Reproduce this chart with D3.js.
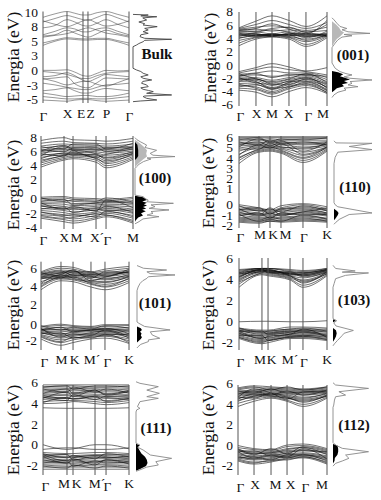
<!DOCTYPE html>
<html><head><meta charset="utf-8">
<script src="https://cdn.jsdelivr.net/npm/d3@7"></script>
<style>
body{margin:0;background:#fff}
svg{display:block}
text{font-family:"Liberation Serif","Times New Roman",serif;fill:#111}
</style>
</head><body><svg id="c" width="381" height="500"></svg>
<script>
// ---------------- DATA ----------------
// Bulk
const bulkK = ["Γ","X","E","Z","P","Γ"];
const bulkKPos = [0,0.279,0.465,0.523,0.733,1];
const bulkSampleK = [0,0.14,0.279,0.37,0.465,0.523,0.63,0.733,0.87,1];
const bulkDomain = [-5.7,10];
const bulkTicks = [10,7.5,5,2.5,0,-2.5,-5];
const bulkTickLabels = ["10","8","5","3","0","-3","-5"];
const bulkCond = [
  [4.2,4.9,5.3,5.2,5.1,5.1,5.2,5.2,4.8,4.2],
  [4.6,5.1,5.5,5.4,5.3,5.3,5.4,5.4,5.0,4.6],
  [5.8,6.0,6.8,6.3,5.8,5.6,6.2,6.8,6.2,5.8],
  [6.0,6.6,7.2,7.0,6.5,6.5,7.0,7.2,6.6,6.0],
  [7.2,7.6,8.6,8.2,7.6,7.5,8.0,8.6,7.8,7.2],
  [8.2,8.8,9.3,9.0,8.6,8.5,9.0,9.5,8.9,8.2],
  [9.0,9.6,10.0,9.7,9.4,9.4,9.8,10.0,9.5,9.0],
  [8.4,7.8,7.4,7.8,8.4,8.6,8.0,7.5,7.8,8.4],
  [5.6,5.9,6.2,6.6,7.0,7.2,6.8,6.3,6.0,5.6]
];
const bulkVal = [
  [-0.1,-0.1,0.0,-0.4,-1.0,-1.1,-0.6,-0.1,-0.2,-0.1],
  [-0.3,-0.5,-0.8,-1.2,-1.5,-1.5,-1.0,-0.6,-0.4,-0.3],
  [-1.2,-1.0,-0.5,-1.0,-1.8,-2.0,-1.4,-0.8,-1.0,-1.2],
  [-1.5,-2.0,-2.6,-2.3,-2.0,-2.0,-2.5,-2.8,-2.2,-1.5],
  [-2.3,-2.6,-3.0,-3.2,-3.4,-3.4,-3.0,-2.6,-2.5,-2.3],
  [-3.6,-3.4,-3.1,-3.6,-4.0,-4.0,-3.5,-3.2,-3.4,-3.6],
  [-4.0,-4.3,-4.6,-4.5,-4.4,-4.4,-4.6,-4.6,-4.4,-4.0],
  [-4.6,-4.8,-5.0,-5.0,-4.9,-4.9,-5.0,-5.0,-4.8,-4.6],
  [-5.2,-5.3,-5.4,-5.2,-5.1,-5.1,-5.3,-5.4,-5.3,-5.2],
  [-1.6,-1.4,-1.2,-2.4,-3.0,-3.1,-2.2,-1.4,-1.5,-1.6]
];
const bulkDos = [[9.5,0],[9.4,0.39],[9.25,0.2],[9.1,0.61],[8.9,0.25],[8.54,0.35],[8.2,0.15],[7.9,0.3],[7.68,0.26],[7.4,0.62],[7.1,0.3],[6.83,0.39],[6.54,0.26],[6.26,0.39],[6.0,0.2],[5.68,0.18],[5.4,0.3],[5.23,0.99],[5.05,0.3],[4.82,0.26],[4.5,0.15],[4.25,0.09],[3.96,0],[0.26,0],[-0.03,0.09],[-0.3,0.2],[-0.6,0.26],[-0.89,0.39],[-1.2,0.2],[-1.46,0.26],[-1.75,0.48],[-2.0,0.25],[-2.32,0.22],[-2.6,0.35],[-2.9,0.39],[-3.1,0.2],[-3.35,0.26],[-3.55,0.4],[-3.75,0.52],[-4.03,0.35],[-4.32,0.99],[-4.5,0.3],[-4.6,0.26],[-4.9,0.35],[-5.18,0.61],[-5.35,0.2],[-5.47,0]];

// (001)
const s001K = ["Γ","X","M","X","Γ","M"];
const s001KPos = [0,0.193,0.375,0.568,0.761,1];
const s001Domain = [-6.28,7.88];
const s001Ticks = [8,6,4,2,0,-2,-4,-6];
const s001TickLabels = ["8","6","4","2","0","-2","-4","-6"];
const s001Cond = [
  [2.8,3.8,4.1,3.8,2.7,4.0],[3.2,4.0,4.2,4.0,3.0,4.2],[3.6,4.1,4.3,4.1,3.4,4.3],
  [4.0,4.3,4.4,4.2,3.8,4.4],[4.3,4.4,4.5,4.4,4.2,4.5],[4.6,4.5,4.4,4.5,4.6,4.4],
  [4.8,4.6,4.3,4.6,4.7,4.3],[5.0,4.9,4.6,4.9,4.4,4.7],[5.2,5.3,5.0,5.2,4.9,5.1],
  [5.3,5.6,5.8,5.5,5.1,5.6],[5.4,6.0,6.6,6.0,5.4,6.3],[5.5,6.5,7.3,6.6,5.7,7.3],
  [5.0,5.0,5.4,5.6,4.8,6.0],
  [4.2,4.6,4.2,4.7,4.3,4.6],[4.5,4.2,4.6,4.3,4.5,4.2],[3.9,4.4,4.5,4.4,3.6,4.5],
  [4.4,4.8,5.2,4.8,4.0,5.0],[4.7,4.3,4.3,4.5,4.2,4.3],[5.1,5.4,6.1,5.3,4.6,6.6]
];
const s001Val = [
  [-1.1,-0.5,0.1,-0.4,-1.0,-0.5],[-1.3,-0.8,-0.4,-0.8,-1.1,-1.6],[-1.5,-1.3,-1.0,-1.3,-1.3,-2.0],
  [-1.7,-1.6,-1.8,-1.7,-1.5,-2.3],[-1.9,-2.0,-2.4,-2.0,-1.7,-2.6],[-2.1,-2.2,-2.8,-2.3,-1.9,-2.9],
  [-2.3,-2.4,-3.2,-2.5,-2.1,-3.2],[-2.6,-2.7,-3.5,-2.8,-2.3,-3.5],[-2.9,-3.0,-3.8,-3.0,-2.6,-3.8],
  [-3.2,-3.4,-4.1,-3.3,-2.9,-4.0],[-3.6,-3.8,-4.5,-3.7,-3.2,-4.2],[-3.9,-4.2,-4.9,-4.1,-3.5,-4.4],
  [-2.0,-2.8,-3.0,-2.6,-2.5,-3.4],
  [-1.4,-2.2,-2.6,-2.2,-1.4,-2.8],[-1.8,-1.4,-2.0,-1.5,-1.6,-1.8],[-2.2,-2.6,-3.7,-2.7,-2.0,-3.6],
  [-2.5,-2.2,-3.0,-3.1,-2.2,-3.0],[-3.0,-3.6,-4.3,-3.5,-2.7,-3.9],[-3.4,-3.1,-3.6,-3.4,-3.0,-4.3]
];
const s001Dos = [[7.0,0],[6.7,0.05],[6.2,0.12],[5.7,0.2],[5.4,0.37],[5.2,0.25],[4.9,0.4],[4.66,0.95],[4.5,0.3],[4.3,0.5],[4.1,0.25],[3.7,0.15],[3.2,0.08],[2.7,0.02],[2.5,0],[0.2,0],[-0.1,0.03],[-0.6,0.08],[-1.1,0.2],[-1.4,0.35],[-1.6,0.5],[-1.9,0.3],[-2.1,0.45],[-2.36,1.0],[-2.6,0.45],[-2.86,0.5],[-3.1,0.4],[-3.37,0.65],[-3.6,0.3],[-3.87,0.35],[-4.2,0.15],[-4.6,0.05],[-5.0,0]];
const s001DosGray = [[6.5,0],[6.0,0.1],[5.5,0.18],[5.1,0.22],[4.8,0.3],[4.5,0.25],[4.2,0.2],[3.8,0.12],[3.2,0.05],[2.7,0]];
const s001DosBlack = [[-1.0,0],[-1.2,0.15],[-1.5,0.28],[-1.8,0.2],[-2.0,0.3],[-2.3,0.45],[-2.5,0.3],[-2.8,0.4],[-3.0,0.25],[-3.3,0.3],[-3.6,0.12],[-4.0,0.05],[-4.2,0]];

// (100)
const s100K = ["Γ","X","M","X´","Γ","M"];
const s100KPos = [0,0.25,0.348,0.598,0.707,1];
const s100Domain = [-5.24,8.04];
const s100Ticks = [8,6,4,2,-0.71,-2.86,-4.9];
const s100TickLabels = ["8","6","4","2","0","-2","-4"];
const s100Cond = [
  [3.6,4.6,4.8,4.3,3.5,4.7],[3.9,4.8,5.0,4.6,3.8,4.9],[4.2,5.0,5.2,4.9,4.1,5.1],
  [4.6,5.2,5.4,5.1,4.5,5.3],[5.0,5.4,5.5,5.3,4.9,5.5],[5.3,5.6,5.7,5.6,5.3,5.7],
  [5.6,5.9,5.9,5.8,5.6,5.9],[5.8,6.1,6.1,6.0,5.9,6.1],[6.0,6.3,6.4,6.2,6.1,6.3],
  [6.3,6.6,6.6,6.5,6.4,6.6],[6.6,6.9,6.8,6.7,6.6,6.9],[7.0,7.3,7.1,7.0,6.9,7.3],
  [7.4,7.8,7.5,7.4,7.3,7.7],[5.2,6.5,6.0,5.0,5.4,6.2],
  [4.8,5.6,5.3,5.4,4.7,5.6],[5.5,5.2,6.0,5.5,5.0,5.8],[6.1,5.8,6.3,6.4,5.8,6.5],
  [5.9,6.7,6.2,6.1,6.3,6.4],[6.5,6.2,6.9,6.9,6.2,7.0],[4.4,5.3,5.6,4.8,4.3,5.5]
];
const s100Val = [
  [-0.7,-0.6,-0.8,-0.9,-1.0,-0.7],[-0.9,-0.8,-1.0,-1.1,-1.2,-0.9],[-1.1,-1.1,-1.3,-1.4,-1.4,-1.2],
  [-1.4,-1.4,-1.6,-1.6,-1.5,-1.5],[-1.6,-1.7,-1.9,-1.8,-1.7,-1.8],[-1.8,-2.0,-2.2,-2.0,-1.9,-2.1],
  [-2.0,-2.3,-2.5,-2.2,-2.1,-2.4],[-2.3,-2.6,-2.8,-2.5,-2.3,-2.7],[-2.6,-2.9,-3.1,-2.8,-2.5,-3.0],
  [-2.9,-3.2,-3.4,-3.0,-2.8,-3.3],[-3.2,-3.5,-3.8,-3.3,-3.0,-3.7],[-3.5,-3.9,-4.1,-3.6,-3.3,-4.0],
  [-3.7,-4.2,-4.4,-3.8,-3.5,-4.4],[-1.5,-2.4,-2.0,-2.7,-1.1,-2.2],
  [-0.8,-1.3,-1.1,-1.3,-0.8,-1.4],[-1.3,-1.0,-1.8,-1.5,-1.3,-1.6],[-1.9,-2.4,-2.3,-2.6,-2.0,-2.9],
  [-2.4,-2.1,-2.9,-2.3,-2.6,-2.5],[-2.8,-3.3,-3.2,-3.5,-2.7,-3.5],[-3.3,-3.7,-3.6,-3.1,-3.2,-4.2]
];
const s100Dos = [[7.8,0],[7.5,0.05],[7.23,0.13],[6.75,0.29],[6.4,0.25],[6.0,0.54],[5.56,0.38],[5.3,0.45],[5.1,1.0],[4.9,0.3],[4.76,0.4],[4.38,0.21],[4.0,0.1],[3.66,0.04],[3.4,0],[-0.4,0],[-0.63,0.21],[-0.9,0.25],[-1.1,0.33],[-1.35,0.3],[-1.57,0.96],[-1.8,0.4],[-2.05,0.5],[-2.3,0.35],[-2.52,0.85],[-2.75,0.4],[-3.0,0.45],[-3.25,0.3],[-3.48,0.6],[-3.8,0.2],[-4.19,0.1],[-4.5,0]];
const s100DosGray = [[7.5,0],[7.0,0.12],[6.5,0.22],[6.0,0.3],[5.5,0.28],[5.1,0.3],[4.7,0.2],[4.3,0.12],[3.8,0.03],[3.5,0]];
const s100DosBlack = [[7.2,0],[6.8,0.06],[6.0,0.08],[5.2,0.08],[4.9,0.05],[4.6,0],[-0.5,0],[-0.7,0.2],[-0.9,0.25],[-1.1,0.3],[-1.3,0.18],[-1.5,0.3],[-1.7,0.22],[-1.9,0.3],[-2.1,0.2],[-2.3,0.28],[-2.5,0.18],[-2.7,0.27],[-3.0,0.15],[-3.3,0.2],[-3.6,0.08],[-4.0,0.02],[-4.2,0]];

// (110)
const s110K = ["Γ","M","K","M","Γ","K"];
const s110KPos = [0,0.227,0.352,0.477,0.727,1];
const s110Domain = [-2.86,6.07];
const s110Ticks = [6,5,4,3,2,1,-0.53,-1.53,-2.57];
const s110TickLabels = ["6","5","4","3","2","1","0","-1","-2"];
const s110Cond = [
  [3.4,4.5,4.6,4.4,3.5,4.6],[3.7,4.6,4.7,4.5,3.7,4.7],[4.0,4.7,4.8,4.6,3.9,4.8],
  [4.3,4.9,4.9,4.8,4.2,4.9],[4.6,5.0,5.0,4.9,4.5,5.0],[4.9,5.1,5.1,5.0,4.8,5.1],
  [5.1,5.2,5.2,5.2,5.0,5.2],[5.3,5.3,5.3,5.3,5.2,5.3],[5.4,5.4,5.5,5.4,5.4,5.5],
  [5.6,5.6,5.6,5.6,5.6,5.6],[5.8,5.7,5.8,5.7,5.8,5.8],[5.9,5.9,5.9,5.9,5.9,5.9],
  [6.0,6.0,6.0,6.0,6.0,6.0],[5.0,5.8,5.4,5.6,4.6,5.5],
  [4.2,5.2,4.9,5.3,4.3,5.0],[4.8,4.8,5.4,5.0,4.9,5.3],[5.2,5.5,5.1,5.5,5.3,5.4],
  [5.5,5.2,5.7,5.3,5.5,5.2],[5.7,5.9,5.5,5.8,5.7,5.9],[3.9,4.8,5.0,4.7,4.0,5.0]
];
const s110Val = [
  [-0.6,-0.9,-1.1,-0.7,-0.5,-0.8],[-0.8,-1.0,-1.2,-0.9,-0.6,-1.0],[-1.0,-1.1,-1.3,-1.0,-0.8,-1.1],
  [-1.1,-1.2,-1.4,-1.1,-0.9,-1.2],[-1.2,-1.4,-1.5,-1.2,-1.1,-1.4],[-1.4,-1.5,-1.6,-1.4,-1.2,-1.5],
  [-1.5,-1.6,-1.7,-1.5,-1.4,-1.6],[-1.6,-1.8,-1.8,-1.6,-1.5,-1.7],[-1.8,-1.9,-1.9,-1.8,-1.7,-1.9],
  [-1.9,-2.0,-2.0,-1.9,-1.8,-2.0],[-2.1,-2.2,-2.1,-2.1,-2.0,-2.1],[-2.2,-2.3,-2.2,-2.2,-2.1,-2.2],
  [-2.3,-2.4,-2.2,-2.3,-2.2,-2.3],[-1.0,-1.6,-0.9,-1.6,-1.3,-0.9],
  [-0.7,-1.2,-1.0,-1.3,-0.7,-1.2],[-1.1,-0.9,-1.5,-1.0,-1.0,-1.4],[-1.3,-1.7,-1.4,-1.7,-1.3,-1.6],
  [-1.7,-1.4,-1.9,-1.4,-1.6,-1.5],[-2.0,-2.1,-1.8,-2.0,-1.9,-2.2],[-1.5,-2.2,-2.0,-2.2,-1.6,-2.0]
];
const s110Dos = [[5.6,0],[5.4,0.05],[5.36,1.0],[5.05,0.4],[4.75,1.0],[4.5,0.1],[4.0,0.03],[3.4,0],[-0.4,0],[-0.6,0.03],[-0.8,0.1],[-1.4,1.0],[-1.55,0.4],[-2.0,0.15],[-2.3,0.05],[-2.5,0]];
const s110DosGray = [];
const s110DosBlack = [[-1.0,0],[-1.2,0.08],[-1.4,0.12],[-1.6,0.1],[-1.9,0.05],[-2.1,0]];

// (101)
const s101K = ["Γ","M","K","M´","Γ","K"];
const s101KPos = [0,0.227,0.364,0.568,0.727,1];
const s101Domain = [-3.13,6.73];
const s101Ticks = [6,4,2,-0.2,-2];
const s101TickLabels = ["6","4","2","0","-2"];
const s101Cond = [
  [3.6,4.6,4.5,3.9,3.6,4.4],[3.9,4.8,4.7,4.2,3.9,4.6],[4.2,4.9,4.8,4.4,4.2,4.8],
  [4.5,5.0,5.0,4.6,4.5,5.0],[4.8,5.1,5.1,4.8,4.7,5.1],[5.0,5.2,5.2,5.0,4.9,5.2],
  [5.1,5.4,5.3,5.1,5.1,5.4],[5.2,5.5,5.5,5.2,5.3,5.5],[5.3,5.6,5.6,5.3,5.4,5.6],
  [5.4,5.8,5.7,5.4,5.5,5.8],[5.5,6.0,5.9,5.5,5.7,6.0],[5.6,6.2,6.1,5.6,5.9,6.2],
  [4.9,5.3,5.8,4.6,5.0,5.6],
  [4.3,5.3,4.9,4.5,4.4,5.1],[4.9,4.9,5.4,5.1,4.8,5.3],[5.3,5.7,5.2,5.3,5.2,5.7],
  [5.0,5.5,5.7,4.9,5.6,5.5],[5.5,5.1,5.6,5.6,5.1,5.9],[4.0,5.0,5.0,4.3,4.0,4.9]
];
const s101Val = [
  [-0.5,-0.25,-0.4,-0.5,-0.3,-0.3],[-0.6,-0.4,-0.5,-0.6,-0.5,-0.4],[-0.8,-0.6,-0.7,-0.7,-0.7,-0.6],
  [-0.9,-0.8,-0.9,-0.9,-0.8,-0.8],[-0.9,-0.9,-0.9,-0.9,-0.9,-0.9],[-1.0,-1.1,-1.0,-1.0,-1.0,-1.1],
  [-1.1,-1.3,-1.2,-1.1,-1.1,-1.3],[-1.2,-1.5,-1.4,-1.3,-1.2,-1.5],[-1.4,-1.8,-1.6,-1.4,-1.3,-1.7],
  [-1.5,-2.0,-1.8,-1.6,-1.5,-1.9],[-1.7,-2.3,-2.0,-1.7,-1.6,-2.1],[-1.9,-2.6,-2.3,-1.9,-1.8,-2.4],
  [-0.7,-1.7,-1.3,-1.5,-0.9,-1.6],
  [-0.4,-0.9,-0.6,-0.8,-0.4,-0.7],[-0.9,-0.6,-1.1,-0.9,-0.8,-1.0],[-1.2,-1.6,-1.5,-1.2,-1.0,-1.8],
  [-1.3,-1.2,-1.8,-1.5,-1.4,-1.4],[-1.6,-2.2,-1.7,-1.8,-1.4,-2.3],[-0.8,-1.4,-1.1,-0.9,-0.7,-1.3]
];
const s101Dos = [[6.3,0],[6.0,0.17],[5.8,0.78],[5.6,0.26],[5.4,0.35],[5.25,1.0],[5.05,0.3],[4.87,0.26],[4.6,0.15],[4.3,0.08],[3.9,0.03],[3.5,0],[0.0,0],[-0.15,0.05],[-0.5,0.2],[-0.89,0.87],[-1.1,0.35],[-1.45,0.4],[-1.82,0.6],[-2.0,0.3],[-2.19,0.3],[-2.5,0.1],[-2.75,0.03],[-2.9,0]];
const s101DosGray = [];
const s101DosBlack = [[-0.5,0],[-0.7,0.1],[-0.9,0.13],[-1.1,0.08],[-1.3,0.12],[-1.5,0.1],[-1.7,0.13],[-1.9,0.1],[-2.1,0.05],[-2.3,0]];

// (103)
const s103K = ["Γ","M","K","M´","Γ","K"];
const s103KPos = [0,0.261,0.33,0.58,0.727,1];
const s103Domain = [-2.8,6.0];
const s103Ticks = [6,4,2,0,-2];
const s103TickLabels = ["6","4","2","0","-2"];
const s103Cond = [
  [3.2,4.4,4.3,3.9,3.2,4.3],[3.5,4.5,4.4,4.0,3.4,4.4],[3.8,4.6,4.5,4.1,3.7,4.5],
  [4.0,4.7,4.6,4.2,3.9,4.6],[4.2,4.8,4.7,4.3,4.1,4.7],[4.3,4.8,4.8,4.4,4.3,4.7],
  [4.4,4.9,4.8,4.5,4.4,4.8],[4.5,4.9,4.9,4.5,4.5,4.8],[4.6,5.0,4.9,4.6,4.6,4.9],
  [4.7,5.0,5.0,4.7,4.6,4.9],[4.8,5.0,5.0,4.8,4.7,5.0],[4.1,4.9,4.7,4.5,4.4,4.9],
  [3.7,4.6,4.8,4.3,3.6,4.7],[4.2,4.9,4.6,4.6,4.2,4.6],[4.5,4.7,4.9,4.4,4.5,4.9],
  [4.6,4.8,4.7,4.7,4.3,4.8],[4.9,5.0,5.0,4.9,4.8,5.0],[3.9,4.7,4.6,4.3,3.8,4.5]
];
const s103Val = [
  [-0.1,-0.05,-0.05,-0.1,-0.1,0.0],[-0.7,-0.9,-0.9,-0.6,-0.6,-0.7],[-0.8,-1.0,-1.0,-0.8,-0.8,-0.8],
  [-0.9,-1.1,-1.1,-0.9,-0.9,-0.9],[-1.0,-1.2,-1.2,-1.0,-1.0,-1.0],[-1.1,-1.4,-1.3,-1.1,-1.1,-1.2],
  [-1.2,-1.5,-1.4,-1.2,-1.2,-1.3],[-1.3,-1.6,-1.6,-1.3,-1.3,-1.4],[-1.4,-1.8,-1.7,-1.4,-1.4,-1.5],
  [-1.5,-1.9,-1.8,-1.5,-1.5,-1.7],[-1.6,-2.0,-1.9,-1.6,-1.6,-1.8],[-1.7,-2.2,-2.1,-1.7,-1.7,-1.9],
  [-1.0,-1.7,-1.5,-1.3,-0.8,-1.6],
  [-0.7,-1.1,-1.0,-0.8,-0.7,-1.0],[-1.0,-1.0,-1.3,-1.1,-0.9,-1.1],[-1.2,-1.7,-1.5,-1.3,-1.1,-1.5],
  [-1.4,-1.4,-1.9,-1.5,-1.4,-1.6],[-1.6,-2.1,-1.9,-1.6,-1.5,-1.8],[-0.9,-1.3,-1.2,-1.0,-1.0,-1.4]
];
const s103Dos = [[5.3,0],[5.0,0.07],[4.76,0.6],[4.65,0.25],[4.57,0.96],[4.34,0.34],[4.02,0.07],[3.55,0.03],[3.2,0],[0.2,0],[0.0,0.1],[-0.2,0.02],[-0.5,0.08],[-0.93,0.55],[-1.2,0.3],[-1.41,0.25],[-1.89,0.12],[-2.2,0.04],[-2.4,0]];
const s103DosGray = [];
const s103DosBlack = [[0.15,0],[0.0,0.08],[-0.15,0],[-0.7,0],[-0.9,0.08],[-1.2,0.1],[-1.5,0.08],[-1.8,0.04],[-2.0,0]];

// (111)
const s111K = ["Γ","M","K","M´","Γ","K"];
const s111KPos = [0,0.279,0.349,0.605,0.733,1];
const s111Domain = [-2.96,5.69];
const s111Ticks = [6,4,2,0,-2];
const s111TickLabels = ["6","4","2","0","-2"];
const s111Cond = [
  [3.5,3.45,3.45,3.45,3.45,3.5],[3.9,4.0,4.1,3.9,3.8,4.0],[4.1,4.2,4.2,4.1,4.0,4.2],
  [4.3,4.4,4.4,4.3,4.2,4.4],[4.5,4.5,4.6,4.5,4.4,4.5],[4.6,4.7,4.7,4.7,4.6,4.7],
  [4.8,4.8,4.9,4.8,4.8,4.8],[4.9,5.0,5.0,5.0,4.9,5.0],[5.1,5.1,5.2,5.1,5.1,5.1],
  [5.2,5.3,5.3,5.3,5.2,5.3],[5.4,5.4,5.4,5.4,5.4,5.4],[5.5,5.6,5.6,5.5,5.5,5.6],
  [5.7,5.7,5.7,5.7,5.7,5.7],[4.4,5.0,4.6,5.2,4.7,5.1],
  [4.0,4.5,4.3,4.6,4.1,4.4],[4.5,4.2,4.8,4.3,4.6,4.6],[4.9,5.3,4.9,5.2,4.8,5.2],
  [5.3,5.0,5.5,5.0,5.3,4.9],[5.5,5.6,5.3,5.6,5.6,5.5],[4.7,4.4,4.4,4.6,4.5,4.3]
];
const s111Val = [
  [-0.05,-0.5,-0.45,-0.05,-0.05,-0.45],[-0.5,-0.35,-0.35,-0.5,-0.5,-0.35],[-0.8,-0.9,-0.9,-0.8,-0.8,-0.9],
  [-1.0,-1.0,-1.1,-1.0,-1.0,-1.0],[-1.1,-1.2,-1.2,-1.1,-1.1,-1.2],[-1.3,-1.3,-1.3,-1.3,-1.3,-1.3],
  [-1.4,-1.5,-1.5,-1.4,-1.4,-1.5],[-1.6,-1.6,-1.6,-1.6,-1.6,-1.6],[-1.7,-1.8,-1.8,-1.7,-1.7,-1.8],
  [-1.9,-1.9,-1.9,-1.9,-1.9,-1.9],[-2.0,-2.1,-2.1,-2.0,-2.0,-2.1],[-2.2,-2.2,-2.2,-2.2,-2.2,-2.2],
  [-2.4,-2.4,-2.4,-2.4,-2.4,-2.4],[-1.2,-1.8,-1.4,-2.0,-1.5,-1.7],
  [-0.9,-1.3,-1.1,-1.4,-0.9,-1.2],[-1.2,-1.0,-1.5,-1.2,-1.3,-1.1],[-1.5,-1.8,-1.6,-1.8,-1.5,-1.9],
  [-1.8,-1.6,-2.1,-1.6,-1.8,-1.7],[-2.1,-2.3,-2.0,-2.3,-2.1,-2.3],[-1.0,-1.6,-1.3,-1.1,-1.2,-1.4]
];
const s111Dos = [[6.0,0],[5.85,0.11],[5.53,0.62],[5.2,0.3],[4.89,0.65],[4.57,0.3],[4.41,0.62],[4.09,0.11],[3.61,0.04],[3.45,0.11],[3.3,0.02],[3.1,0],[0.1,0],[-0.08,0.11],[-0.3,0.05],[-0.56,0.2],[-1.04,0.4],[-1.36,0.99],[-1.68,0.55],[-2.0,0.62],[-2.2,0.3],[-2.48,0.1],[-2.6,0]];
const s111DosGray = [];
const s111DosBlack = [[0.05,0],[-0.1,0.1],[-0.3,0.05],[-0.6,0.1],[-0.9,0.15],[-1.2,0.25],[-1.5,0.3],[-1.8,0.32],[-2.1,0.28],[-2.4,0.1],[-2.55,0]];

// (112)
const s112K = ["Γ","X","M","X","Γ","M"];
const s112KPos = [0,0.18,0.371,0.551,0.73,1];
const s112Domain = [-2.96,5.78];
const s112Ticks = [6,4,2,0,-2];
const s112TickLabels = ["6","4","2","0","-2"];
const s112Cond = [
  [3.7,4.2,4.5,4.2,3.7,4.5],[4.0,4.4,4.6,4.3,3.9,4.6],[4.3,4.6,4.7,4.5,4.2,4.7],
  [4.5,4.7,4.8,4.6,4.4,4.8],[4.7,4.8,4.9,4.8,4.6,4.9],[4.8,4.9,5.0,4.9,4.8,5.0],
  [4.9,5.0,5.1,5.0,4.9,5.1],[5.0,5.1,5.2,5.1,5.0,5.2],[5.1,5.2,5.3,5.2,5.1,5.3],
  [5.2,5.3,5.4,5.3,5.2,5.4],[5.3,5.5,5.5,5.4,5.3,5.5],[5.5,5.7,5.6,5.5,5.4,5.6],
  [4.6,5.4,5.0,4.4,5.1,5.2],
  [4.2,4.7,4.9,4.6,4.1,4.8],[4.6,4.5,5.0,4.7,4.5,5.0],[4.9,5.2,4.8,5.2,4.8,5.3],
  [5.2,5.0,5.4,5.0,5.1,5.1],[5.4,5.6,5.3,5.6,5.3,5.6],[4.4,4.9,4.7,4.5,4.3,4.7]
];
const s112Val = [
  [-0.1,-0.4,-0.5,-0.05,0.05,-0.4],[-0.3,-0.5,-0.6,-0.2,-0.1,-0.5],[-0.5,-0.7,-0.7,-0.4,-0.3,-0.7],
  [-0.6,-0.8,-0.8,-0.6,-0.5,-0.8],[-0.8,-0.9,-0.9,-0.7,-0.6,-0.9],[-0.9,-1.1,-1.0,-0.9,-0.8,-1.1],
  [-1.0,-1.2,-1.2,-1.0,-0.9,-1.2],[-1.2,-1.4,-1.3,-1.1,-1.0,-1.3],[-1.3,-1.5,-1.4,-1.2,-1.1,-1.5],
  [-1.4,-1.7,-1.6,-1.3,-1.2,-1.7],[-1.6,-1.9,-1.7,-1.4,-1.3,-1.9],[-0.7,-1.3,-1.0,-1.2,-0.4,-1.4],
  [-0.4,-0.9,-0.8,-0.5,-0.3,-1.0],[-0.7,-0.6,-1.1,-0.8,-0.6,-0.7],[-1.1,-1.4,-1.1,-1.3,-1.0,-1.4],
  [-1.3,-1.2,-1.5,-1.0,-1.0,-1.6],[-1.5,-1.8,-1.5,-1.5,-1.2,-1.8],[-0.5,-1.0,-0.4,-0.9,-0.2,-0.6]
];
const s112Dos = [[6.0,0],[5.78,0.07],[5.45,0.96],[5.13,0.16],[4.8,0.34],[4.64,0.07],[4.32,0.04],[3.83,0.02],[3.6,0],[0.2,0],[-0.05,0.07],[-0.37,0.25],[-0.7,0.96],[-1.02,0.34],[-1.34,0.43],[-1.6,0.25],[-1.83,0.07],[-2.1,0]];
const s112DosGray = [];
const s112DosBlack = [[0.05,0],[-0.1,0.12],[-0.4,0.14],[-0.7,0.14],[-1.0,0.12],[-1.3,0.05],[-1.6,0.04],[-1.85,0]];

const tags = ["Bulk","(001)","(100)","(110)","(101)","(103)","(111)","(112)"];
const yTitle = "Energia (eV)";

// -------------- assemble (data references) --------------
const panels = [
  {k:bulkK,kPos:bulkKPos,sampleK:bulkSampleK,domain:bulkDomain,ticks:bulkTicks,tickLabels:bulkTickLabels,cond:bulkCond,val:bulkVal,dos:bulkDos,dosGray:[],dosBlack:[]},
  {k:s001K,kPos:s001KPos,sampleK:s001KPos,domain:s001Domain,ticks:s001Ticks,tickLabels:s001TickLabels,cond:s001Cond,val:s001Val,dos:s001Dos,dosGray:s001DosGray,dosBlack:s001DosBlack},
  {k:s100K,kPos:s100KPos,sampleK:s100KPos,domain:s100Domain,ticks:s100Ticks,tickLabels:s100TickLabels,cond:s100Cond,val:s100Val,dos:s100Dos,dosGray:s100DosGray,dosBlack:s100DosBlack},
  {k:s110K,kPos:s110KPos,sampleK:s110KPos,domain:s110Domain,ticks:s110Ticks,tickLabels:s110TickLabels,cond:s110Cond,val:s110Val,dos:s110Dos,dosGray:s110DosGray,dosBlack:s110DosBlack},
  {k:s101K,kPos:s101KPos,sampleK:s101KPos,domain:s101Domain,ticks:s101Ticks,tickLabels:s101TickLabels,cond:s101Cond,val:s101Val,dos:s101Dos,dosGray:s101DosGray,dosBlack:s101DosBlack},
  {k:s103K,kPos:s103KPos,sampleK:s103KPos,domain:s103Domain,ticks:s103Ticks,tickLabels:s103TickLabels,cond:s103Cond,val:s103Val,dos:s103Dos,dosGray:s103DosGray,dosBlack:s103DosBlack},
  {k:s111K,kPos:s111KPos,sampleK:s111KPos,domain:s111Domain,ticks:s111Ticks,tickLabels:s111TickLabels,cond:s111Cond,val:s111Val,dos:s111Dos,dosGray:s111DosGray,dosBlack:s111DosBlack},
  {k:s112K,kPos:s112KPos,sampleK:s112KPos,domain:s112Domain,ticks:s112Ticks,tickLabels:s112TickLabels,cond:s112Cond,val:s112Val,dos:s112Dos,dosGray:s112DosGray,dosBlack:s112DosBlack}
];

// -------------- layout (pixels) --------------
const layout = [
  {x0:43,x1:129,yTop:11.5,yBot:103,dosX:133,dosW:39,tickX:38,labelY:118,labelX:[43,67,80.5,90,106,129],titleX:13,titleY:57,tagX:157,tagY:59},
  {x0:239,x1:327,yTop:12,yBot:106,dosX:332,dosW:40,tickX:233,labelY:118,labelX:[240,256,271.5,288,308,322.5],titleX:210,titleY:58,tagX:353,tagY:60},
  {x0:41,x1:133,yTop:136,yBot:229,dosX:135,dosW:40,tickX:37,labelY:242,labelX:[43,63.5,76,96.5,107,132.5],titleX:13,titleY:185,tagX:155,tagY:183},
  {x0:239,x1:327,yTop:136,yBot:228,dosX:334,dosW:38,tickX:233,labelY:239,labelX:[240,259.5,272.5,285,303.5,326.5],titleX:208,titleY:183,tagX:355,tagY:192},
  {x0:41,x1:129,yTop:261.7,yBot:350,dosX:137,dosW:38,tickX:37,labelY:364,labelX:[44,61,74,91.5,107,128.5],titleX:13,titleY:305,tagX:155,tagY:308},
  {x0:239,x1:327,yTop:258,yBot:350,dosX:333,dosW:37,tickX:233,labelY:364,labelX:[240,259.5,271,289.5,303.5,326.5],titleX:208,titleY:305,tagX:354,tagY:305},
  {x0:43,x1:129,yTop:385,yBot:475,dosX:136,dosW:36,tickX:38,labelY:488,labelX:[45,63.5,76,96.5,107,128.5],titleX:13,titleY:430,tagX:156,tagY:433},
  {x0:238,x1:327,yTop:385,yBot:475,dosX:333,dosW:37,tickX:233,labelY:489,labelX:[240,254.5,275,290,305,321.5],titleX:208,titleY:430,tagX:354,tagY:430}
];

// -------------- draw --------------
const svg = d3.select("#c");
panels.forEach((p,i) => {
  const L = layout[i];
  const x = d3.scaleLinear().domain([0,1]).range([L.x0, L.x1]);
  const y = d3.scaleLinear().domain(p.domain).range([L.yBot, L.yTop]);
  const xd = d3.scaleLinear().domain([0,1]).range([L.dosX, L.dosX + L.dosW]);
  const g = svg.append("g");

  // bands
  const line = d3.line().x((d,j) => x(p.sampleK[j])).y(d => y(d)).curve(d3.curveMonotoneX);
  g.append("g").selectAll("path").data(p.cond.concat(p.val)).join("path")
    .attr("d", line).attr("fill","none").attr("stroke", i===0 ? "#333" : "#111")
    .attr("stroke-width", i===0 ? 0.6 : 0.7).attr("stroke-opacity",0.85);

  // k lines
  g.append("g").selectAll("line").data(p.kPos).join("line")
    .attr("x1", d => x(d)).attr("x2", d => x(d))
    .attr("y1", L.yTop).attr("y2", L.yBot)
    .attr("stroke","#555").attr("stroke-width",1);

  // y axis
  const ya = d3.axisLeft(y).tickValues(p.ticks).tickFormat((d,j) => p.tickLabels[j]).tickSize(0).tickPadding(0);
  const yg = g.append("g").attr("transform", `translate(${L.tickX},0)`).call(ya);
  yg.select(".domain").remove();
  yg.selectAll("text").attr("font-size",13.5).attr("fill","#111").attr("x",0).attr("dy","0.35em");

  // x axis labels
  const xa = d3.axisBottom(x).tickValues(p.kPos).tickFormat((d,j) => p.k[j]).tickSize(0).tickPadding(0);
  const xg = g.append("g").attr("transform", `translate(0,${L.labelY})`).call(xa);
  xg.select(".domain").remove();
  xg.selectAll("text").attr("font-size",13.5).attr("fill","#111")
    .attr("x", (d,j) => L.labelX[j] - x(d))
    .attr("y", (d,j) => p.k[j] === "Γ" ? 2.5 : 0).attr("dy",0);

  // y title
  g.append("text").attr("transform", `translate(${L.titleX},${L.titleY}) rotate(-90)`)
    .attr("text-anchor","middle").attr("dominant-baseline","central")
    .attr("font-size",17.5).text(yTitle);

  // DOS
  const area = d3.area().y(d => y(d[0])).x0(xd(0)).x1(d => xd(d[1]));
  if (p.dosGray.length) g.append("path").datum(p.dosGray).attr("d", area).attr("fill","#b8b8b8");
  if (p.dosBlack.length) g.append("path").datum(p.dosBlack).attr("d", area).attr("fill","#000");
  const dline = d3.line().y(d => y(d[0])).x(d => xd(d[1]));
  g.append("path").datum(p.dos).attr("d", dline).attr("fill","none").attr("stroke", i===0 ? "#444" : "#888").attr("stroke-width",0.9);

  // tag
  g.append("text").attr("x", L.tagX).attr("y", L.tagY).attr("text-anchor","middle")
    .attr("font-weight","bold").attr("font-size",15).text(tags[i]);
});
</script>
</body></html>
